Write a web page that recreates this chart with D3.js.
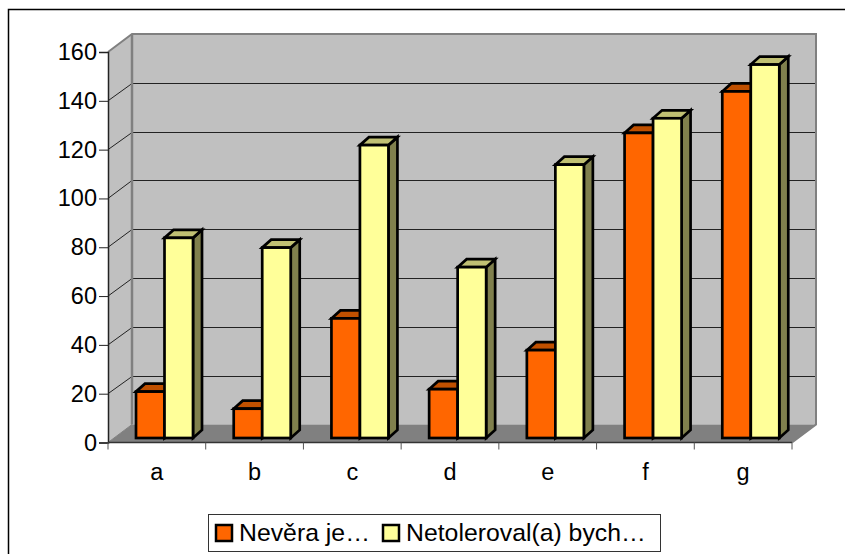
<!DOCTYPE html>
<html>
<head>
<meta charset="utf-8">
<style>
html, body { margin: 0; padding: 0; background: #fff; }
svg { display: block; }
text { font-family: "Liberation Sans", Arial, sans-serif; fill: #000; }
</style>
<title>Nevěra</title>
</head>
<body>
<svg width="845" height="554"></svg>
<script src="https://d3js.org/d3.v7.min.js"></script>
<script>
var categories = ["a", "b", "c", "d", "e", "f", "g"];
var seriesNames = ["Nevěra je…", "Netoleroval(a) bych…"];
var nevera = [19, 12, 49, 20, 36, 125, 142];
var netoleroval = [82, 78, 120, 70, 112, 131, 153];
var yTicks = [0, 20, 40, 60, 80, 100, 120, 140, 160];

var frontFill = ["#ff6600", "#ffff99"];
var topFill = ["#c05000", "#c0c073"];
var sideFill = ["#803300", "#80804d"];

var svg = d3.select("svg");

// plot box, the wall sits behind the axis plane
var plotLeft = 108, plotRight = 792, plotBottom = 442.5, plotTop = 52;
var wallDx = 24, wallDy = -18;
// bars stand a bit inside the floor
var barDx = 9, barDy = -8, baseUp = 4.5;

var x = d3.scaleBand().domain(categories).range([plotLeft, plotRight]);
var x1 = d3.scaleBand().domain([0, 1]).range([28, 85]);
var y = d3.scaleLinear().domain([0, 160]).range([plotBottom, plotTop]);

// outer frame, runs off the right of the picture
svg.append("path")
    .attr("d", "M860,9.5H8.5V570")
    .attr("fill", "none").attr("stroke", "#000").attr("stroke-width", 1.5);

// side wall, back wall, floor
function pts(a) { return a.map(function(p) { return p.join(","); }).join(" "); }

svg.append("polygon")
    .attr("points", pts([[plotLeft, y(0)], [plotLeft + wallDx, y(0) + wallDy], [plotLeft + wallDx, y(160) + wallDy], [plotLeft, y(160)]]))
    .attr("fill", "#c0c0c0");
svg.append("rect")
    .attr("x", plotLeft + wallDx).attr("y", y(160) + wallDy)
    .attr("width", plotRight - plotLeft).attr("height", y(0) - y(160))
    .attr("fill", "#c0c0c0");
svg.append("polygon")
    .attr("points", pts([[plotLeft, y(0)], [plotLeft + wallDx, y(0) + wallDy], [plotRight + wallDx, y(0) + wallDy], [plotRight, y(0)]]))
    .attr("fill", "#808080");

// gridlines, wall part and side part
var grid = svg.append("g");
yTicks.filter(function(d) { return d > 0 && d < 160; }).forEach(function(d) {
    var gy = Math.round(y(d) + wallDy) + 0.5;
    grid.append("line")
        .attr("x1", plotLeft + wallDx).attr("x2", plotRight + wallDx)
        .attr("y1", gy).attr("y2", gy)
        .attr("stroke", "#222").attr("stroke-width", 1);
    grid.append("line")
        .attr("x1", plotLeft).attr("x2", plotLeft + wallDx)
        .attr("y1", y(d)).attr("y2", gy)
        .attr("stroke", "#222").attr("stroke-width", 1);
});

// wall edges
svg.append("path")
    .attr("d", "M" + plotLeft + "," + y(160) + "L" + (plotLeft + wallDx) + "," + (y(160) + wallDy) +
        "H" + (plotRight + wallDx) + "V" + (y(0) + wallDy) + "L" + plotRight + "," + y(0))
    .attr("fill", "none").attr("stroke", "#808080").attr("stroke-width", 2);
svg.append("line")
    .attr("x1", plotLeft + wallDx).attr("x2", plotLeft + wallDx)
    .attr("y1", y(160) + wallDy).attr("y2", y(0) + wallDy)
    .attr("stroke", "#808080").attr("stroke-width", 2.5);
svg.append("line")
    .attr("x1", plotLeft).attr("x2", plotLeft + wallDx)
    .attr("y1", y(0)).attr("y2", y(0) + wallDy)
    .attr("stroke", "#808080").attr("stroke-width", 1);

// bars
var values = [nevera, netoleroval];
var baseY = y(0) - baseUp;
var bars = [];
categories.forEach(function(c, i) {
    values.forEach(function(v, s) { bars.push({ cat: c, s: s, v: v[i] }); });
});

var bar = svg.append("g").selectAll("g").data(bars).enter().append("g")
    .attr("stroke", "#000").attr("stroke-width", 2.7).attr("stroke-linejoin", "miter");

function bx(d) { return x(d.cat) + x1(d.s); }
function by(d) { return y(d.v) - baseUp; }

bar.append("polygon")
    .attr("fill", function(d) { return sideFill[d.s]; })
    .attr("points", function(d) {
        var r = bx(d) + x1.bandwidth();
        return pts([[r, by(d)], [r + barDx, by(d) + barDy], [r + barDx, baseY + barDy], [r, baseY]]);
    });
bar.append("polygon")
    .attr("fill", function(d) { return topFill[d.s]; })
    .attr("points", function(d) {
        var l = bx(d), r = l + x1.bandwidth();
        return pts([[l, by(d)], [l + barDx, by(d) + barDy], [r + barDx, by(d) + barDy], [r, by(d)]]);
    });
bar.append("rect")
    .attr("fill", function(d) { return frontFill[d.s]; })
    .attr("x", bx)
    .attr("y", by)
    .attr("width", x1.bandwidth())
    .attr("height", function(d) { return baseY - by(d); });

// axes
var yAxis = svg.append("g")
    .attr("transform", "translate(" + plotLeft + ",0)")
    .call(d3.axisLeft(y).tickValues(yTicks).tickSize(9).tickPadding(2));
yAxis.select(".domain").attr("stroke", "#222").attr("stroke-width", 1.5);
yAxis.selectAll(".tick line").attr("stroke", "#222").attr("stroke-width", 1);
yAxis.selectAll("text").attr("font-size", 23.5).attr("font-family", "Liberation Sans");

var xAxis = svg.append("g")
    .attr("transform", "translate(0," + plotBottom + ")");
xAxis.append("line")
    .attr("x1", plotLeft).attr("x2", plotRight).attr("stroke", "#333").attr("stroke-width", 1.5);
xAxis.selectAll(".xt").data(d3.range(categories.length + 1)).enter().append("line")
    .attr("class", "xt")
    .attr("x1", function(i) { return plotLeft + i * x.step(); })
    .attr("x2", function(i) { return plotLeft + i * x.step(); })
    .attr("y1", 0).attr("y2", 7)
    .attr("stroke", "#555").attr("stroke-width", 1);
xAxis.selectAll(".xl").data(categories).enter().append("text")
    .attr("class", "xl")
    .attr("x", function(d) { return x(d) + x.bandwidth() / 2; })
    .attr("y", 37)
    .attr("text-anchor", "middle")
    .attr("font-size", 23.5)
    .text(function(d) { return d; });

// legend
var legend = svg.append("g");
legend.append("rect")
    .attr("x", 208.5).attr("y", 514.5).attr("width", 452).attr("height", 37)
    .attr("fill", "#fff").attr("stroke", "#333").attr("stroke-width", 1);
var legendX = [216, 383];
seriesNames.forEach(function(name, i) {
    legend.append("rect")
        .attr("x", legendX[i]).attr("y", 525).attr("width", 16).attr("height", 16)
        .attr("fill", frontFill[i]).attr("stroke", "#000").attr("stroke-width", 2.5);
    legend.append("text")
        .attr("x", legendX[i] + 23).attr("y", 541)
        .attr("font-size", 24.8)
        .text(name);
});
</script>
</body>
</html>
